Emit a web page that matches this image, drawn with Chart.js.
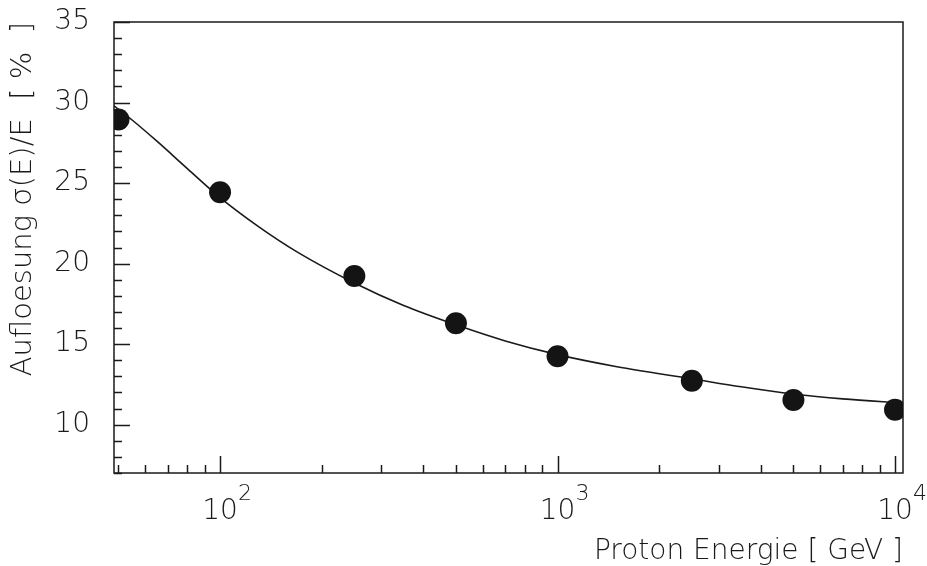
<!DOCTYPE html>
<html>
<head>
<meta charset="utf-8">
<script src="https://cdn.jsdelivr.net/npm/chart.js@4.4.1/dist/chart.umd.min.js"></script>
<style>
  html, body { margin: 0; padding: 0; background: #fff; }
  #wrap { width: 927px; height: 566px; }
</style>
</head>
<body>
<div id="wrap"><canvas id="c" width="927" height="566"></canvas></div>
<script>
// ---- data ----
const energies = [50, 100, 250, 500, 1000, 2500, 5000, 10000];
const resolution = [28.95, 24.43, 19.23, 16.3, 14.25, 12.73, 11.53, 10.93];
const fitEnergies = [48.5, 55, 65, 80, 100, 130, 170, 250, 350, 500, 700, 1000, 1500, 2500, 3500, 5000, 7000, 10000, 10560];
const fitResolution = [29.8, 28.9, 27.6, 25.9, 24.1, 22.3, 20.7, 18.8, 17.4, 16.2, 15.2, 14.35, 13.6, 12.85, 12.35, 11.9, 11.6, 11.38, 11.35];
const yTickLabels = [10, 15, 20, 25, 30, 35];
const xTickLabels = [100, 1000, 10000];
const xTickExponents = ['2', '3', '4'];
const xMin = 48.5, xMax = 10560, yMin = 7, yMax = 35;

const FONT = '"DejaVu Sans", "Liberation Sans", sans-serif';
const INK = '#1a1a1a';

const framePlugin = {
  id: 'frame',
  beforeDatasetsDraw(chart) {
    const {ctx, chartArea: a, scales: {x, y}} = chart;
    ctx.save();
    ctx.strokeStyle = INK;
    ctx.lineWidth = 1.5;
    ctx.strokeRect(a.left, a.top, a.right - a.left, a.bottom - a.top);
    ctx.beginPath();
    // y ticks (inside, on left)
    for (let v = Math.ceil(yMin); v <= yMax; v++) {
      const py = Math.round(y.getPixelForValue(v)) + 0.5;
      const len = (v % 5 === 0) ? 16 : 8;
      ctx.moveTo(a.left, py);
      ctx.lineTo(a.left + len, py);
    }
    // x ticks (inside, on bottom)
    for (let d = 10; d <= 10000; d *= 10) {
      for (let m = 1; m <= 9; m++) {
        const v = d * m;
        if (v < xMin || v > xMax) continue;
        const px = Math.round(x.getPixelForValue(v)) + 0.5;
        const len = (m === 1) ? 17 : 8;
        ctx.moveTo(px, a.bottom);
        ctx.lineTo(px, a.bottom - len);
      }
    }
    ctx.stroke();
    ctx.restore();
  },
  afterDraw(chart) {
    const {ctx, chartArea: a, scales: {x}} = chart;
    ctx.save();
    ctx.fillStyle = INK;
    ctx.textBaseline = 'alphabetic';
    xTickLabels.forEach((v, i) => {
      const px = x.getPixelForValue(v);
      ctx.font = '200 28px ' + FONT;
      ctx.textAlign = 'center';
      ctx.fillText('10', px, a.bottom + 46);
      ctx.font = '200 22px ' + FONT;
      ctx.textAlign = 'left';
      ctx.fillText(xTickExponents[i], px + 18, a.bottom + 27);
    });
    ctx.restore();
  }
};

new Chart(document.getElementById('c'), {
  type: 'scatter',
  data: {
    datasets: [
      {
        type: 'line',
        label: 'Fit',
        data: fitEnergies.map((e, i) => ({x: e, y: fitResolution[i]})),
        borderColor: INK,
        borderWidth: 1.6,
        pointRadius: 0,
        fill: false,
        cubicInterpolationMode: 'monotone',
        order: 2
      },
      {
        label: 'Messung',
        data: energies.map((e, i) => ({x: e, y: resolution[i]})),
        backgroundColor: '#141414',
        borderColor: '#141414',
        borderWidth: 0,
        pointRadius: 11,
        pointHoverRadius: 11,
        order: 1
      }
    ]
  },
  options: {
    responsive: false,
    animation: false,
    devicePixelRatio: 1,
    layout: { padding: { left: 0, top: 22, right: 24, bottom: 0 } },
    plugins: { legend: { display: false }, tooltip: { enabled: false } },
    scales: {
      x: {
        type: 'logarithmic',
        min: xMin, max: xMax,
        grid: { display: false, drawTicks: false },
        border: { display: false },
        ticks: { display: false },
        afterFit(s) { s.height = 93; s.paddingLeft = 0; s.paddingRight = 0; },
        title: {
          display: true,
          text: 'Proton Energie [ GeV ]',
          align: 'end',
          color: INK,
          font: { family: FONT, size: 28, weight: 200, lineHeight: 1.0 },
          padding: { top: 0, bottom: 0 }
        }
      },
      y: {
        type: 'linear',
        min: yMin, max: yMax,
        afterBuildTicks(s) { s.ticks = yTickLabels.map(v => ({value: v})); },
        grid: { display: false, drawTicks: false },
        border: { display: false },
        ticks: {
          color: INK,
          padding: 24,
          font: { family: FONT, size: 28, weight: 200 },
          callback: v => String(v)
        },
        afterFit(s) { s.width = 114; s.paddingTop = 0; s.paddingBottom = 0; },
        title: {
          display: true,
          text: 'Aufloesung σ(E)/E  [ %  ]',
          align: 'end',
          color: INK,
          font: { family: FONT, size: 29, weight: 200, lineHeight: 1.2 },
          padding: { top: 6, bottom: 0 }
        }
      }
    }
  },
  plugins: [framePlugin]
});
</script>
</body>
</html>
